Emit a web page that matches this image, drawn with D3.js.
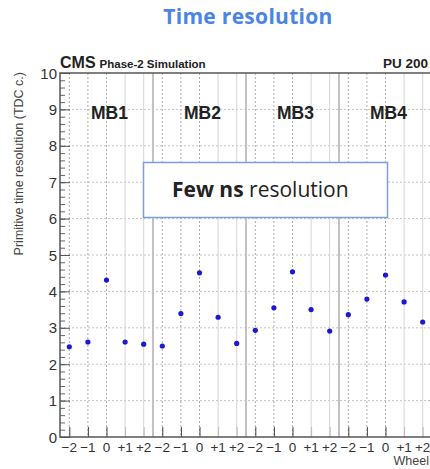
<!DOCTYPE html>
<html>
<head>
<meta charset="utf-8">
<script src="https://cdn.jsdelivr.net/npm/d3@7"></script>
<style>
  body { margin: 0; background: #fff; }
  svg { display: block; }
</style>
</head>
<body>
<svg id="chart" width="430" height="469"></svg>
<script>
// data
const stations = ["MB1", "MB2", "MB3", "MB4"];
const wheels = ["\u22122", "\u22121", "0", "+1", "+2"];
const resolution = [
  2.48, 2.61, 4.31, 2.61, 2.55,
  2.50, 3.39, 4.51, 3.29, 2.57,
  2.93, 3.55, 4.54, 3.50, 2.91,
  3.36, 3.79, 4.45, 3.71, 3.16
];
const yTicks = [0, 1, 2, 3, 4, 5, 6, 7, 8, 9, 10];

const chart = d3.select("#chart");
const margin = { left: 60, top: 73, bottom: 32 };
const plotRight = 432;
const plotBottom = 437;

let x = d3.scaleLinear()
    .domain([-0.5, resolution.length - 0.5])
    .range([margin.left, plotRight]);
let y = d3.scaleLinear()
    .domain([0, 10])
    .range([plotBottom, margin.top]);

// title
chart.append("text")
    .attr("x", 248).attr("y", 24)
    .attr("text-anchor", "middle")
    .style("font-family", "'Open Sans', Lato, sans-serif")
    .style("font-weight", "bold")
    .style("font-size", "21px")
    .style("letter-spacing", "0.3px")
    .style("fill", "#4a84e4")
    .text("Time resolution");

// grid
let grid = chart.append("g");
grid.selectAll(".hgrid")
    .data(yTicks.slice(1, -1))
    .enter().append("line")
    .attr("x1", margin.left).attr("x2", plotRight)
    .attr("y1", d => y(d)).attr("y2", d => y(d))
    .attr("stroke", "#c4c4c4")
    .attr("stroke-dasharray", "2,2");
grid.selectAll(".vgrid")
    .data(resolution)
    .enter().append("line")
    .attr("x1", (d, i) => x(i)).attr("x2", (d, i) => x(i))
    .attr("y1", margin.top).attr("y2", plotBottom)
    .attr("stroke", (d, i) => (i % 5) < 3 ? "#aaa" : "#d6d6d6")
    .attr("stroke-dasharray", (d, i) => (i % 5) < 3 ? "2,2" : null)
    .attr("stroke-width", 1);
// station separators
grid.selectAll(".sep")
    .data(stations.slice(1))
    .enter().append("line")
    .attr("x1", (d, i) => x((i + 1) * 5 - 0.5)).attr("x2", (d, i) => x((i + 1) * 5 - 0.5))
    .attr("y1", margin.top).attr("y2", plotBottom)
    .attr("stroke", "#c2c2c2")
    .attr("stroke-width", 2);

// y axis with ROOT-like inner ticks
let y_axis = d3.axisRight(y).tickValues(yTicks).tickSize(10).tickFormat("");
let yMinor = d3.axisRight(y).tickValues(d3.range(0, 10.01, 0.2)).tickSize(5).tickFormat("");
chart.append("g").attr("transform", "translate(" + margin.left + ",0)").call(yMinor)
    .call(g => g.select(".domain").remove())
    .selectAll("line").attr("stroke", "#666");
chart.append("g").attr("transform", "translate(" + margin.left + ",0)").call(y_axis)
    .call(g => g.select(".domain").remove())
    .selectAll("line").attr("stroke", "#555");
chart.append("g")
    .selectAll("text")
    .data(yTicks)
    .enter().append("text")
    .attr("x", margin.left - 3)
    .attr("y", d => y(d) + 5.5)
    .attr("text-anchor", "end")
    .style("font-family", "'Liberation Sans', Arial, sans-serif")
    .style("font-size", "15px")
    .style("fill", "#333")
    .text(d => d);

// x axis
let x_axis = d3.axisTop(x)
    .tickValues(d3.range(resolution.length))
    .tickSize(10)
    .tickFormat("");
chart.append("g").attr("transform", "translate(0," + plotBottom + ")").call(x_axis)
    .call(g => g.select(".domain").remove())
    .selectAll("line").attr("stroke", (d, i) => (i % 5) < 3 ? "#444" : "#bbb");
chart.append("g")
    .selectAll("text")
    .data(resolution)
    .enter().append("text")
    .attr("x", (d, i) => x(i))
    .attr("y", plotBottom + 15)
    .attr("text-anchor", "middle")
    .style("font-family", "'Liberation Sans', Arial, sans-serif")
    .style("font-size", "13.5px")
    .style("fill", "#333")
    .text((d, i) => wheels[i % 5]);

// frame
chart.append("path")
    .attr("d", "M" + plotRight + "," + margin.top + "H" + margin.left + "V" + plotBottom + "H" + plotRight)
    .attr("fill", "none")
    .attr("stroke", "#555")
    .attr("stroke-width", 1.5);

// axis titles
chart.append("text")
    .attr("transform", "rotate(-90)")
    .attr("x", -y(10) + 1)
    .attr("y", 23)
    .attr("text-anchor", "end")
    .style("font-family", "'Liberation Sans', Arial, sans-serif")
    .style("font-size", "12.5px")
    .style("fill", "#444")
    .text("Primitive time resolution (TDC c.)");
chart.append("text")
    .attr("x", 429)
    .attr("y", 465)
    .attr("text-anchor", "end")
    .style("font-family", "'Liberation Sans', Arial, sans-serif")
    .style("font-size", "12.5px")
    .style("fill", "#444")
    .text("Wheel");

// CMS label
let cms = chart.append("text")
    .attr("x", 60).attr("y", 68)
    .style("font-family", "'Liberation Sans', Arial, sans-serif")
    .style("font-weight", "bold")
    .style("fill", "#222");
cms.append("tspan").style("font-size", "16px").text("CMS");
cms.append("tspan").attr("dx", 4).style("font-size", "11.5px").text("Phase-2 Simulation");
chart.append("text")
    .attr("x", 383).attr("y", 68)
    .style("font-family", "'Liberation Sans', Arial, sans-serif")
    .style("font-weight", "bold")
    .style("font-size", "13.5px")
    .style("fill", "#222")
    .text("PU 200");

// station labels
chart.append("g")
    .selectAll("text")
    .data(stations)
    .enter().append("text")
    .attr("x", (d, i) => x(i * 5 + 2) + 3)
    .attr("y", y(8.75))
    .attr("text-anchor", "middle")
    .style("font-family", "'Liberation Sans', Arial, sans-serif")
    .style("font-weight", "bold")
    .style("font-size", "17.5px")
    .style("fill", "#222")
    .text(d => d);

// points
chart.append("g")
    .selectAll("circle")
    .data(resolution)
    .enter().append("circle")
    .attr("cx", (d, i) => x(i))
    .attr("cy", d => y(d))
    .attr("r", 2.6)
    .attr("fill", "#1a1ad0");

// annotation box
chart.append("rect")
    .attr("x", 143.5).attr("y", 162.5)
    .attr("width", 244).attr("height", 55)
    .attr("fill", "#fff")
    .attr("stroke", "#7c9ee0")
    .attr("stroke-width", 1.5);
let note = chart.append("text")
    .attr("x", 172).attr("y", 197)
    .style("font-family", "'Open Sans', Lato, sans-serif")
    .style("font-size", "21px")
    .style("fill", "#222");
note.append("tspan").style("font-weight", "bold").text("Few ns");
note.append("tspan").text(" resolution");
</script>
</body>
</html>
